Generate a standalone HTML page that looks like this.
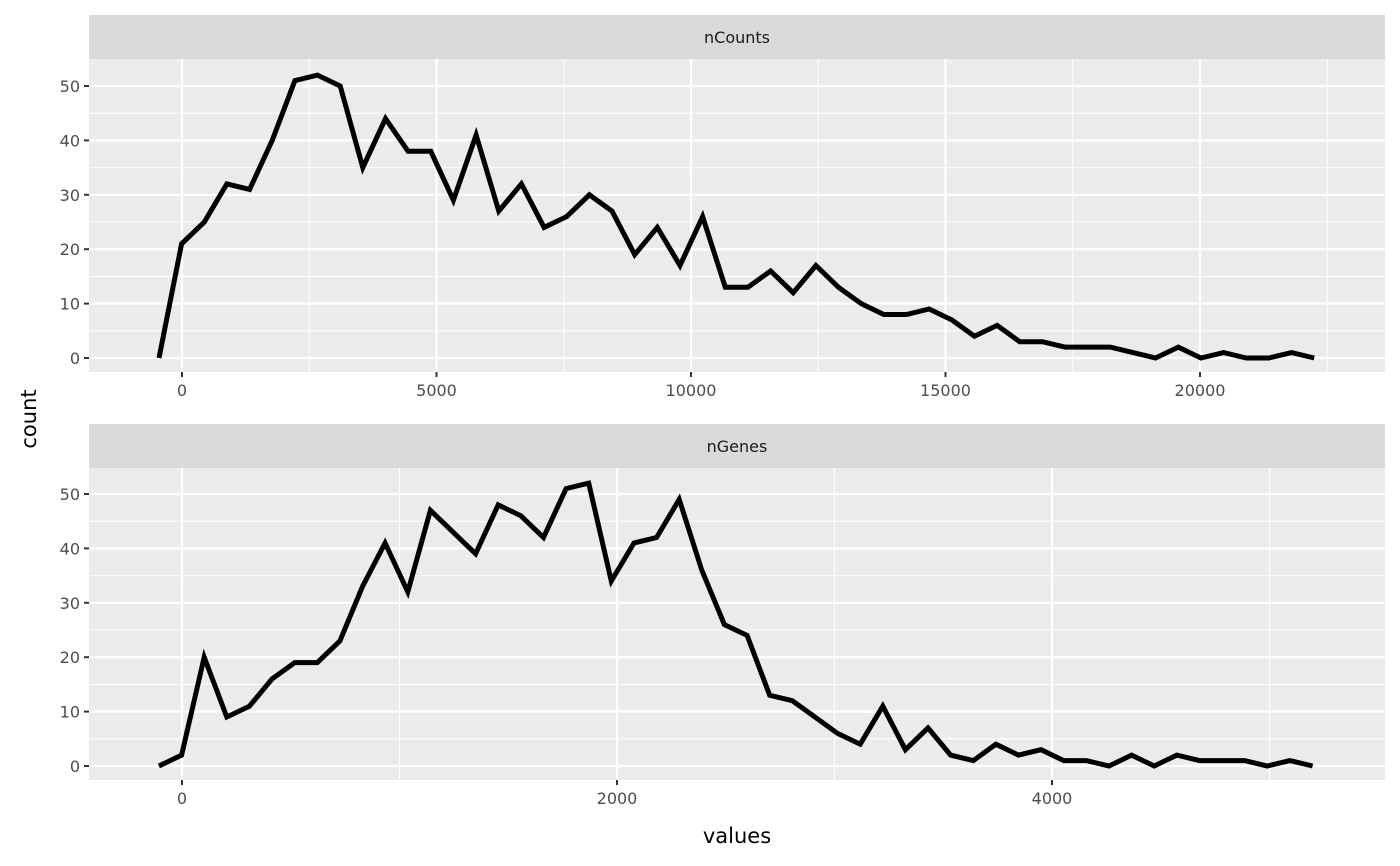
<!DOCTYPE html>
<html><head><meta charset="utf-8"><style>
html,body{margin:0;padding:0;background:#fff;}
svg{display:block;font-family:"DejaVu Sans","Liberation Sans",sans-serif;}
</style></head><body>
<svg id="chart" width="1400" height="866" xmlns="http://www.w3.org/2000/svg"></svg>
<script>
const countsStart = -452;
const countsStep = 445;
const countsValues = [0,21,25,32,31,40,51,52,50,35,44,38,38,29,41,27,32,24,26,30,27,19,24,17,26,13,13,16,12,17,13,10,8,8,9,7,4,6,3,3,2,2,2,1,0,2,0,1,0,0,1,0];
const countsXTicks = [0,5000,10000,15000,20000];
const countsXMinor = [2500,7500,12500,17500,22500];
const genesStart = -106;
const genesStep = 104;
const genesValues = [0,2,20,9,11,16,19,19,23,33,41,32,47,43,39,48,46,42,51,52,34,41,42,49,36,26,24,13,12,9,6,4,11,3,7,2,1,4,2,3,1,1,0,2,0,2,1,1,1,0,1,0];
const genesXTicks = [0,2000,4000];
const genesXMinor = [1000,3000,5000];
const yTicks = [0,10,20,30,40,50];
const yMinor = [5,15,25,35,45];

const NS="http://www.w3.org/2000/svg";
const svg=document.getElementById('chart');
function mk(tag,attrs,parent){const e=document.createElementNS(NS,tag);for(const k in attrs)e.setAttribute(k,attrs[k]);(parent||svg).appendChild(e);return e;}

function panel(cfg){
  const L=89,R=1385;
  const g=mk('g',{});
  
  
  const strip=mk('rect',{x:L,y:cfg.stripTop,width:R-L,height:cfg.top-cfg.stripTop,fill:'#D9D9D9'},g);
  
  
  const st=mk('text',{x:(L+R)/2,y:(cfg.stripTop+cfg.top)/2+6,'text-anchor':'middle','font-size':'16',fill:'#1A1A1A'},g);
  st.textContent=cfg.name;
  
  
  const bg=mk('rect',{x:L,y:cfg.top,width:R-L,height:cfg.bottom-cfg.top,fill:'#EBEBEB'},g);
  
  
  const xs=v=>cfg.x0px+v*cfg.pxPerUnit;
  const ys=v=>cfg.y0px-v*5.44;
  cfg.xMinor.forEach(v=>{const px=xs(v);if(px>L&&px<R)mk('line',{x1:px,x2:px,y1:cfg.top,y2:cfg.bottom,stroke:'#fff','stroke-width':1},g);});
  yMinor.forEach(v=>mk('line',{x1:L,x2:R,y1:ys(v),y2:ys(v),stroke:'#fff','stroke-width':1},g));
  cfg.xTicks.forEach(v=>{const px=xs(v);
    mk('line',{x1:px,x2:px,y1:cfg.top,y2:cfg.bottom,stroke:'#fff','stroke-width':2.2},g);
    mk('line',{x1:px,x2:px,y1:cfg.bottom,y2:cfg.bottom+5,stroke:'#333','stroke-width':2},g);
    const t=mk('text',{x:px,y:cfg.bottom+24,'text-anchor':'middle','font-size':'16',fill:'#4D4D4D'},g);t.textContent=v;
    
    
  });
  yTicks.forEach(v=>{const py=ys(v);
    mk('line',{x1:L,x2:R,y1:py,y2:py,stroke:'#fff','stroke-width':2.2},g);
    mk('line',{x1:L-5,x2:L,y1:py,y2:py,stroke:'#333','stroke-width':2},g);
    const t=mk('text',{x:L-9,y:py+6,'text-anchor':'end','font-size':'16',fill:'#4D4D4D'},g);t.textContent=v;
    
    
  });
  const pts=cfg.values.map((v,i)=>xs(cfg.start+i*cfg.step).toFixed(1)+','+ys(v).toFixed(1)).join(' ');
  const line=mk('polyline',{points:pts,fill:'none',stroke:'#000','stroke-width':5,'stroke-linejoin':'miter','stroke-miterlimit':10},g);
  
  
}
panel({name:'nCounts',stripTop:15,top:59,bottom:372,x0px:182,pxPerUnit:254.5/5000,y0px:358,values:countsValues,start:countsStart,step:countsStep,xTicks:countsXTicks,xMinor:countsXMinor});
panel({name:'nGenes',stripTop:424,top:468,bottom:780,x0px:182,pxPerUnit:435/2000,y0px:766,values:genesValues,start:genesStart,step:genesStep,xTicks:genesXTicks,xMinor:genesXMinor});
const yt=mk('text',{x:0,y:0,transform:'translate(36,419) rotate(-90)','text-anchor':'middle','font-size':'21',fill:'#000'});
yt.textContent='count';


const xt=mk('text',{x:737,y:843,'text-anchor':'middle','font-size':'21',fill:'#000'});
xt.textContent='values';


</script>
</body></html>
